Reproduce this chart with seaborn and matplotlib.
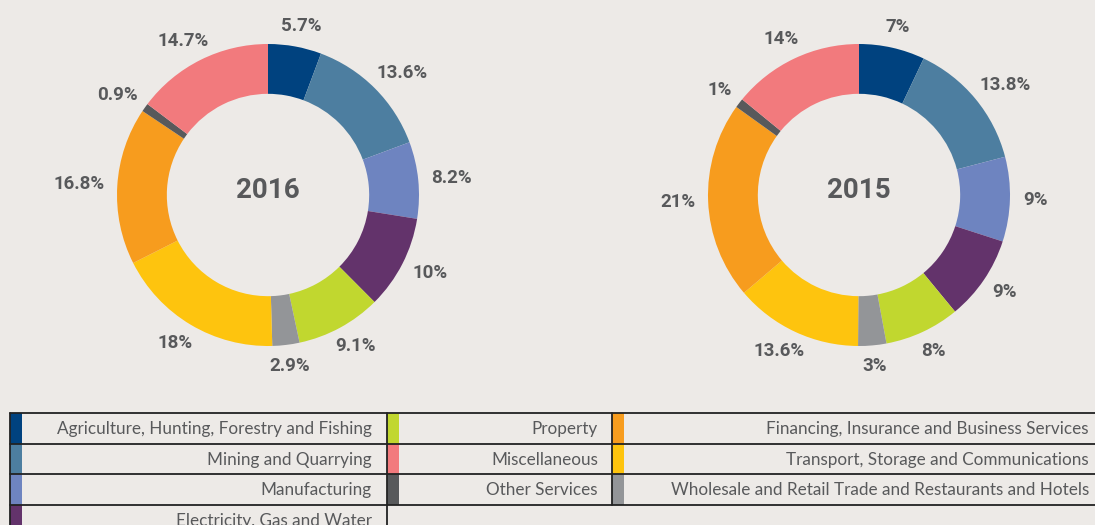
import numpy as np
import matplotlib
matplotlib.use("Agg")
import matplotlib.pyplot as plt
import seaborn as sns

# ---------------- data ----------------
sectors = [
    "Agriculture, Hunting, Forestry and Fishing",
    "Mining and Quarrying",
    "Manufacturing",
    "Electricity, Gas and Water",
    "Property",
    "Wholesale and Retail Trade and Restaurants and Hotels",
    "Transport, Storage and Communications",
    "Financing, Insurance and Business Services",
    "Other Services",
    "Miscellaneous",
]
share_2016 = [5.7, 13.6, 8.2, 10, 9.1, 2.9, 18, 16.8, 0.9, 14.7]
labels_2016 = ["5.7%", "13.6%", "8.2%", "10%", "9.1%", "2.9%", "18%", "16.8%", "0.9%", "14.7%"]
share_2015 = [7, 13.8, 9, 9, 8, 3, 13.6, 21, 1, 14]
labels_2015 = ["7%", "13.8%", "9%", "9%", "8%", "3%", "13.6%", "21%", "1%", "14%"]
years = ["2016", "2015"]

# legend table columns (indices into sectors)
legend_cols = [[0, 1, 2, 3], [4, 9, 8], [7, 6, 5]]

# ---------------- style ----------------
sns.set_style("white")
palette = sns.color_palette([
    "#00427F", "#4D7EA0", "#6E84C0", "#63336B", "#C1D72F",
    "#939598", "#FEC40E", "#F79C1E", "#58595B", "#F27A7D",
])
BG = "#EDEAE7"
TXT = "#58595B"
label_font = ["Roboto", "DejaVu Sans"]
legend_font = ["Lato", "DejaVu Sans"]
plt.rcParams["font.family"] = ["DejaVu Sans"]

W, H = 1095, 525
fig = plt.figure(figsize=(W / 100, H / 100), dpi=100, facecolor=BG)
renderer = fig.canvas.get_renderer()

R_PX = 151.0   # outer radius in pixels
HALF = 240.0   # half size of each donut axes, pixels
GAP_PX = 13.0  # gap between ring and nearest edge of a label


def donut_axes(cx, cy):
    return fig.add_axes([(cx - HALF) / W, 1 - (cy + HALF) / H, 2 * HALF / W, 2 * HALF / H])


def draw_donut(ax, values, labels, year):
    wedges, _ = ax.pie(values, colors=palette, startangle=90, counterclock=False,
                       radius=1.0, wedgeprops=dict(width=0.33, edgecolor="none"))
    lim = HALF / R_PX
    ax.set_xlim(-lim, lim)
    ax.set_ylim(-lim, lim)
    ax.set_aspect("equal")
    ax.axis("off")
    ax.patch.set_visible(False)
    for w, lab in zip(wedges, labels):
        ang = np.deg2rad((w.theta1 + w.theta2) / 2)
        ux, uy = np.cos(ang), np.sin(ang)
        t = ax.text(0, 0, lab, ha="center", va="center",
                    fontsize=13.5, fontweight="bold", color=TXT,
                    family=label_font, clip_on=False)
        bb = t.get_window_extent(renderer=renderer)
        hw, hh = bb.width / 2 / R_PX, bb.height / 2 / R_PX
        r = 1.0 + GAP_PX / R_PX
        t.set_position((r * ux + ux * hw, r * uy + uy * hh * 0.9))
    ax.text(0, 0.03, year, ha="center", va="center", fontsize=20, fontweight="bold",
            color=TXT, family=label_font)


ax1 = donut_axes(268, 195)
draw_donut(ax1, share_2016, labels_2016, years[0])
ax2 = donut_axes(859, 195)
draw_donut(ax2, share_2015, labels_2015, years[1])

# ---------------- legend table ----------------
lax = fig.add_axes([0, 0, 1, 1])
lax.set_xlim(0, W)
lax.set_ylim(H, 0)
lax.axis("off")
lax.patch.set_visible(False)

top = 413.0
row_h = 30.5
col_left = [10, 387, 612]
col_right = [387, 612, 1095]
sw = 12
pad = [15, 14, 6]

for c, idxs in enumerate(legend_cols):
    for r, i in enumerate(idxs):
        y0 = top + r * row_h
        lax.add_patch(plt.Rectangle((col_left[c], y0), sw, row_h, facecolor=palette[i],
                                    edgecolor="none"))
        lax.text(col_right[c] - pad[c], y0 + row_h / 2 + 1, sectors[i], ha="right", va="center",
                 fontsize=12.3, color=TXT, family=legend_font)

for r in range(4):
    y = top + r * row_h
    lax.plot([col_left[0], W], [y, y], color="#222222", lw=1.3)
lax.plot([col_left[0], col_left[0]], [top, H], color="#222222", lw=1.3)
lax.plot([col_left[1], col_left[1]], [top, H], color="#222222", lw=1.3)
lax.plot([col_left[2], col_left[2]], [top, top + 3 * row_h], color="#222222", lw=1.3)

fig.savefig("out.png", dpi=100, facecolor=BG)
